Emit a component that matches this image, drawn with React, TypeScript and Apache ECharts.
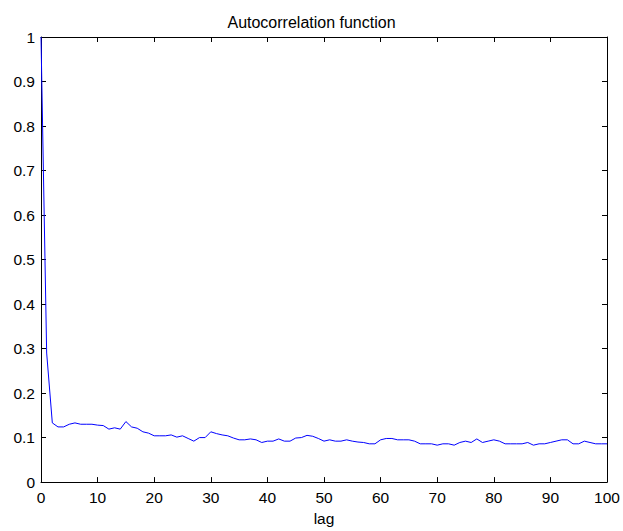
import React, { useEffect, useRef } from "react";
import * as echarts from "echarts";

const titleText = "Autocorrelation function";
const xName = "lag";
const xTicks = { min: 0, max: 100, interval: 10 };
const yTicks = { min: 0, max: 1, interval: 0.1 };

// autocorrelation values for lag 0..100
const acf: number[] = [
  1.0, 0.29, 0.133, 0.124, 0.124, 0.13, 0.133, 0.13, 0.13, 0.13,
  0.128, 0.127, 0.119, 0.122, 0.119, 0.136, 0.124, 0.121, 0.113, 0.11,
  0.104, 0.104, 0.104, 0.106, 0.101, 0.104, 0.098, 0.092, 0.1, 0.1,
  0.113, 0.109, 0.106, 0.104, 0.099, 0.095, 0.095, 0.097, 0.095, 0.089,
  0.092, 0.092, 0.097, 0.092, 0.092, 0.099, 0.1, 0.105, 0.103, 0.098,
  0.092, 0.095, 0.092, 0.092, 0.095, 0.092, 0.09, 0.089, 0.086, 0.086,
  0.095, 0.098, 0.098, 0.095, 0.095, 0.095, 0.092, 0.086, 0.086, 0.086,
  0.083, 0.086, 0.086, 0.083, 0.089, 0.092, 0.089, 0.097, 0.089, 0.092,
  0.095, 0.092, 0.086, 0.086, 0.086, 0.086, 0.089, 0.083, 0.086, 0.086,
  0.089, 0.092, 0.095, 0.095, 0.086, 0.086, 0.092, 0.089, 0.086, 0.086,
  0.086,
];
const lags: number[] = acf.map((_, i) => i);

const FONT = "'Liberation Sans', Arial, sans-serif";

export default function App() {
  const ref = useRef<HTMLDivElement>(null);
  useEffect(() => {
    if (!ref.current) return;
    const chart = echarts.init(ref.current, undefined, { renderer: "svg" });
    const axisLine = { show: true, onZero: false, lineStyle: { color: "#000", width: 1 } };
    const axisTick = { show: true, inside: true, length: 5, lineStyle: { color: "#000", width: 1 } };
    chart.setOption({
      animation: false,
      backgroundColor: "#fff",
      title: {
        text: titleText,
        left: "center",
        top: 9,
        textStyle: { fontFamily: FONT, fontSize: 16, fontWeight: "normal", color: "#000" },
      },
      grid: { left: 41, right: 16, top: 37, bottom: 47, containLabel: false },
      xAxis: [
        {
          type: "value",
          position: "bottom",
          ...xTicks,
          name: xName,
          nameLocation: "middle",
          nameGap: 27,
          nameTextStyle: { fontFamily: FONT, fontSize: 15.5, color: "#000" },
          axisLine,
          axisTick,
          splitLine: { show: false },
          axisLabel: { fontFamily: FONT, fontSize: 15.5, color: "#000", margin: 7 },
        },
        {
          type: "value",
          position: "top",
          ...xTicks,
          axisLine,
          axisTick,
          splitLine: { show: false },
          axisLabel: { show: false },
        },
      ],
      yAxis: [
        {
          type: "value",
          position: "left",
          ...yTicks,
          axisLine,
          axisTick,
          splitLine: { show: false },
          axisLabel: { fontFamily: FONT, fontSize: 15.5, color: "#000", margin: 6 },
        },
        {
          type: "value",
          position: "right",
          ...yTicks,
          axisLine,
          axisTick,
          splitLine: { show: false },
          axisLabel: { show: false },
        },
      ],
      series: [
        {
          type: "line",
          xAxisIndex: 0,
          yAxisIndex: 0,
          data: lags.map((l, i) => [l, acf[i]]),
          showSymbol: false,
          symbol: "none",
          lineStyle: { color: "#0000ff", width: 1 },
          itemStyle: { color: "#0000ff" },
        },
      ],
    });
    return () => chart.dispose();
  }, []);
  return (
    <div
      ref={ref}
      style={{ position: "fixed", left: 0, top: 0, width: 623, height: 531, background: "#fff" }}
    />
  );
}
